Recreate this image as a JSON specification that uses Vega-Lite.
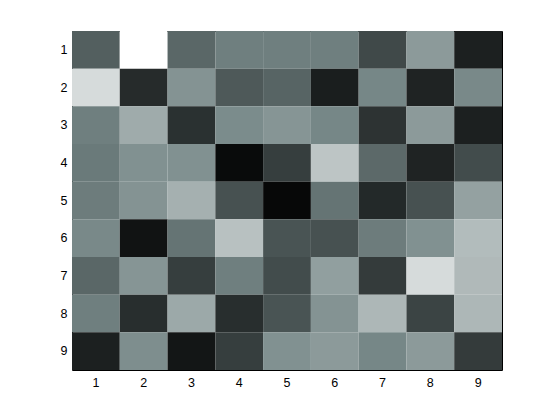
{
  "$schema": "https://vega.github.io/schema/vega-lite/v6.json",
  "autosize": "none",
  "padding": {"left": 72, "top": 31, "right": 52, "bottom": 46},
  "width": 430,
  "height": 339,
  "background": "white",
  "config": {
    "view": {"stroke": null},
    "axis": {"labelFont": "Liberation Sans", "labelColor": "black", "domainColor": "black", "tickColor": "black", "grid": false, "title": null, "labelAngle": 0, "zindex": 1}
  },
  "data": {"values": [
    {"r":1,"c":1,"v":0.35},{"r":1,"c":2,"v":1.0},{"r":1,"c":3,"v":0.38},{"r":1,"c":4,"v":0.47},{"r":1,"c":5,"v":0.47},{"r":1,"c":6,"v":0.47},{"r":1,"c":7,"v":0.27},{"r":1,"c":8,"v":0.58},{"r":1,"c":9,"v":0.12},
    {"r":2,"c":1,"v":0.85},{"r":2,"c":2,"v":0.16},{"r":2,"c":3,"v":0.55},{"r":2,"c":4,"v":0.33},{"r":2,"c":5,"v":0.37},{"r":2,"c":6,"v":0.11},{"r":2,"c":7,"v":0.50},{"r":2,"c":8,"v":0.13},{"r":2,"c":9,"v":0.51},
    {"r":3,"c":1,"v":0.47},{"r":3,"c":2,"v":0.65},{"r":3,"c":3,"v":0.18},{"r":3,"c":4,"v":0.52},{"r":3,"c":5,"v":0.56},{"r":3,"c":6,"v":0.50},{"r":3,"c":7,"v":0.19},{"r":3,"c":8,"v":0.58},{"r":3,"c":9,"v":0.12},
    {"r":4,"c":1,"v":0.45},{"r":4,"c":2,"v":0.54},{"r":4,"c":3,"v":0.54},{"r":4,"c":4,"v":0.04},{"r":4,"c":5,"v":0.23},{"r":4,"c":6,"v":0.76},{"r":4,"c":7,"v":0.39},{"r":4,"c":8,"v":0.13},{"r":4,"c":9,"v":0.28},
    {"r":5,"c":1,"v":0.46},{"r":5,"c":2,"v":0.55},{"r":5,"c":3,"v":0.67},{"r":5,"c":4,"v":0.30},{"r":5,"c":5,"v":0.03},{"r":5,"c":6,"v":0.43},{"r":5,"c":7,"v":0.15},{"r":5,"c":8,"v":0.30},{"r":5,"c":9,"v":0.61},
    {"r":6,"c":1,"v":0.51},{"r":6,"c":2,"v":0.07},{"r":6,"c":3,"v":0.43},{"r":6,"c":4,"v":0.74},{"r":6,"c":5,"v":0.31},{"r":6,"c":6,"v":0.30},{"r":6,"c":7,"v":0.46},{"r":6,"c":8,"v":0.54},{"r":6,"c":9,"v":0.72},
    {"r":7,"c":1,"v":0.38},{"r":7,"c":2,"v":0.56},{"r":7,"c":3,"v":0.23},{"r":7,"c":4,"v":0.47},{"r":7,"c":5,"v":0.28},{"r":7,"c":6,"v":0.60},{"r":7,"c":7,"v":0.22},{"r":7,"c":8,"v":0.85},{"r":7,"c":9,"v":0.71},
    {"r":8,"c":1,"v":0.47},{"r":8,"c":2,"v":0.17},{"r":8,"c":3,"v":0.64},{"r":8,"c":4,"v":0.17},{"r":8,"c":5,"v":0.31},{"r":8,"c":6,"v":0.55},{"r":8,"c":7,"v":0.70},{"r":8,"c":8,"v":0.25},{"r":8,"c":9,"v":0.70},
    {"r":9,"c":1,"v":0.12},{"r":9,"c":2,"v":0.53},{"r":9,"c":3,"v":0.08},{"r":9,"c":4,"v":0.23},{"r":9,"c":5,"v":0.54},{"r":9,"c":6,"v":0.58},{"r":9,"c":7,"v":0.50},{"r":9,"c":8,"v":0.58},{"r":9,"c":9,"v":0.22}
  ]},
  "layer": [
    {
      "mark": {"type": "rect"},
      "encoding": {
        "x": {"field": "c", "type": "ordinal", "scale": {"paddingInner": 0, "paddingOuter": 0}, "axis": {"orient": "bottom", "tickSize": -4, "labelPadding": 10, "labelFontSize": 12.5}},
        "y": {"field": "r", "type": "ordinal", "scale": {"paddingInner": 0, "paddingOuter": 0}, "axis": {"orient": "left", "tickSize": -4, "labelPadding": 9, "labelFontSize": 12.5}},
        "color": {"field": "v", "type": "quantitative", "legend": null, "scale": {"domain": [0, 0.5, 1], "range": ["#000000", "#768787", "#ffffff"], "interpolate": "rgb"}}
      }
    },
    {
      "mark": {"type": "rect", "opacity": 0},
      "encoding": {
        "x": {"field": "c", "type": "ordinal", "axis": {"orient": "top", "tickSize": -4, "labels": false}},
        "y": {"field": "r", "type": "ordinal", "axis": {"orient": "right", "tickSize": -4, "labels": false}}
      }
    }
  ],
  "resolve": {"axis": {"x": "independent", "y": "independent"}}
}
